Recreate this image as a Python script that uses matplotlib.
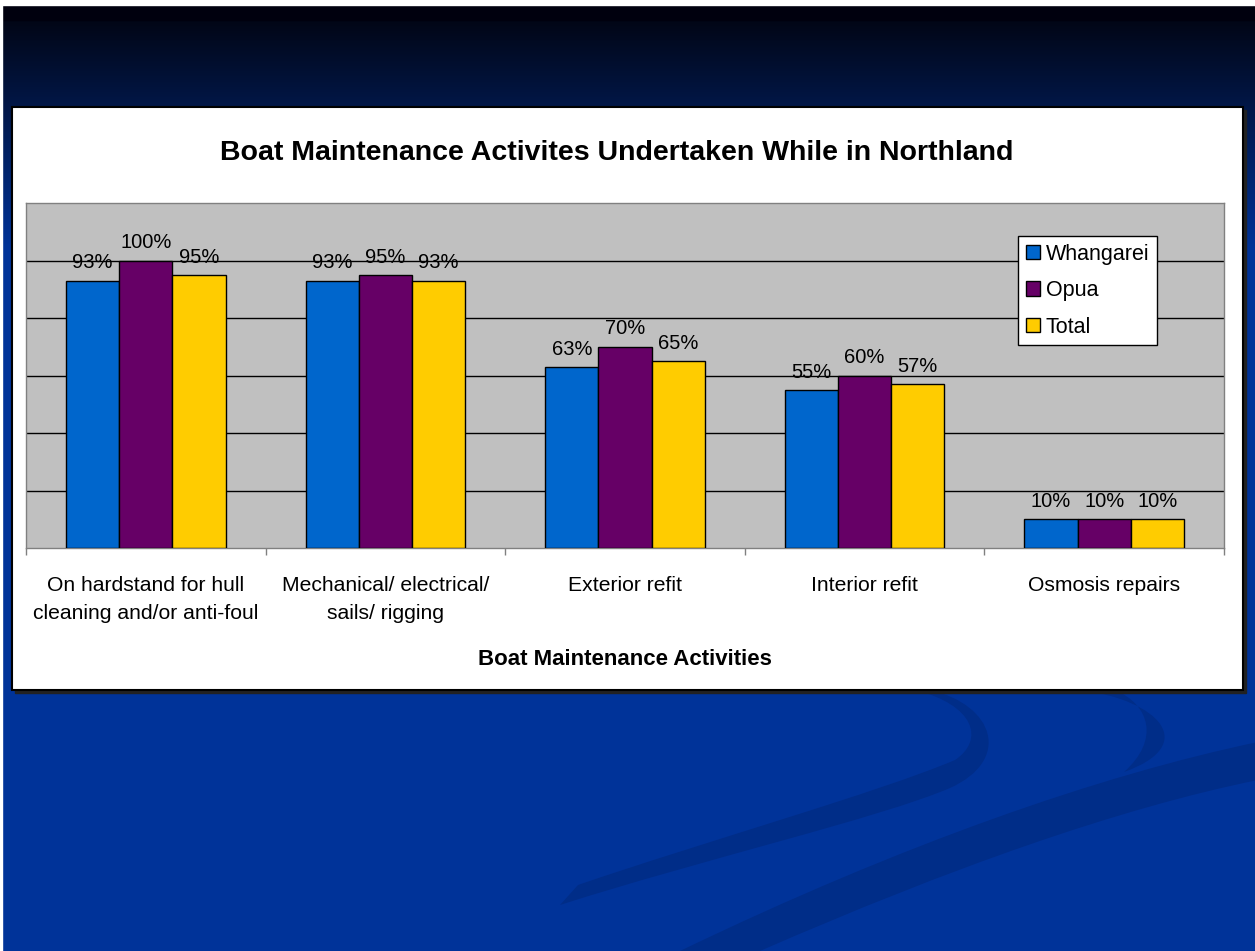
import matplotlib
matplotlib.use("Agg")
import matplotlib.pyplot as plt
from matplotlib.patches import Rectangle, PathPatch
from matplotlib.path import Path
import numpy as np

plt.rcParams['font.family'] = ['Liberation Sans', 'DejaVu Sans']

# survey results (% of respondents)
categories = ["On hardstand for hull\ncleaning and/or anti-foul",
              "Mechanical/ electrical/\nsails/ rigging",
              "Exterior refit",
              "Interior refit",
              "Osmosis repairs"]
whangarei = [93, 93, 63, 55, 10]
opua = [100, 95, 70, 60, 10]
total = [95, 93, 65, 57, 10]
series_names = ["Whangarei", "Opua", "Total"]
series_colors = ["#0066CC", "#660066", "#FFCC00"]

W, H = 1255, 951


def fig_rect(x0, y0, x1, y1):
    # pixel box (top-left origin) -> figure fraction rect
    return [x0 / W, 1 - y1 / H, (x1 - x0) / W, (y1 - y0) / H]


fig = plt.figure(figsize=(W / 100, H / 100), dpi=100)

# slide background
bg = fig.add_axes([0, 0, 1, 1])
bg.set_xlim(0, W)
bg.set_ylim(H, 0)
bg.axis('off')
bg.add_patch(Rectangle((0, 0), W, H, color="#003399", zorder=0))

top = np.array([0x02, 0x06, 0x16]) / 255
bot = np.array([0x00, 0x33, 0x99]) / 255
t = np.linspace(0, 1, 256)[:, None, None]
grad = top + (bot - top) * t
bg.imshow(grad, extent=(0, W, 250, 20), aspect='auto', zorder=1)
bg.add_patch(Rectangle((0, 5), W, 15, color="#00000E", zorder=1))
bg.add_patch(Rectangle((0, 0), W, 5, color="white", zorder=2))
bg.add_patch(Rectangle((0, 0), 2, H, color="white", zorder=2))
bg.set_xlim(0, W)
bg.set_ylim(H, 0)

# darker swooshes in the lower right
swoosh = "#002D88"
M, C4, L, CL = Path.MOVETO, Path.CURVE4, Path.LINETO, Path.CLOSEPOLY
long_band = Path([(1258, 742), (1100, 775), (900, 845), (680, 951),
                  (760, 951), (950, 868), (1120, 808), (1258, 780),
                  (1258, 742)],
                 [M, C4, C4, C4, L, C4, C4, C4, CL])
curve_band = Path([(930, 690), (995, 705), (1012, 760), (950, 788),
                   (880, 818), (700, 860), (560, 905),
                   (578, 885), (700, 843), (880, 792), (955, 760),
                   (985, 740), (975, 705), (915, 690),
                   (930, 690)],
                  [M, C4, C4, C4, C4, C4, C4, L, C4, C4, C4, C4, C4, C4, CL])
crescent = Path([(1080, 690), (1160, 700), (1200, 745), (1124, 772),
                 (1160, 740), (1150, 705), (1115, 690), (1080, 690)],
                [M, C4, C4, C4, C4, C4, C4, CL])
for p in (long_band, curve_band, crescent):
    bg.add_patch(PathPatch(p, facecolor=swoosh, edgecolor='none', zorder=3))

# white chart box with a drop shadow
bg.add_patch(Rectangle((15, 110), 1231, 583, color="#222222", zorder=4))
bg.add_patch(Rectangle((12, 107), 1231, 583, facecolor="white",
                       edgecolor="black", linewidth=1.5, zorder=5))

# bar chart
ax = fig.add_axes(fig_rect(26, 203, 1224, 548))
ax.set_facecolor("#C0C0C0")
x = np.arange(len(categories))
width = 0.222
for j, (name, vals, col) in enumerate(zip(series_names, [whangarei, opua, total], series_colors)):
    pos = x + (j - 1) * width
    ax.bar(pos, vals, width=width, color=col, edgecolor='black', linewidth=1,
           label=name, zorder=3)
    for xp, v in zip(pos, vals):
        ax.annotate(f"{v}%", (xp, v), xytext=(0, 6), textcoords='offset points',
                    ha='center', va='bottom', fontsize=14.5, color='black', zorder=4)

ax.set_xlim(-0.5, len(categories) - 0.5)
ax.set_ylim(0, 120)
ax.set_yticks([20, 40, 60, 80, 100])
ax.yaxis.grid(True, color='black', linewidth=1, zorder=1)
ax.tick_params(axis='y', length=0, labelleft=False)
ax.set_xticks(np.arange(-0.5, len(categories), 1))
ax.set_xticklabels([])
ax.tick_params(axis='x', direction='out', length=5, width=1, color='#808080')
for s in ax.spines.values():
    s.set_color('#808080')
    s.set_linewidth(1)
ax.set_axisbelow(True)

for i, lab in enumerate(categories):
    ax.text(i, -0.08, lab, transform=ax.get_xaxis_transform(), ha='center',
            va='top', fontsize=15.2, linespacing=1.62)

leg = ax.legend(loc='upper left', bbox_to_anchor=((1018 - 26) / 1198, (548 - 236) / 345),
                borderaxespad=0, fontsize=15.5, frameon=True, fancybox=False,
                edgecolor='black', framealpha=1, handlelength=0.65, handleheight=0.65,
                handletextpad=0.3, borderpad=0.35, labelspacing=0.72)
leg.get_frame().set_linewidth(1)

fig.text(617 / W, 1 - 160 / H, "Boat Maintenance Activites Undertaken While in Northland",
         ha='center', va='baseline', fontsize=20.5, fontweight='bold')
fig.text(625 / W, 1 - 665 / H, "Boat Maintenance Activities",
         ha='center', va='baseline', fontsize=16, fontweight='bold')

fig.savefig("out.png", dpi=100)
